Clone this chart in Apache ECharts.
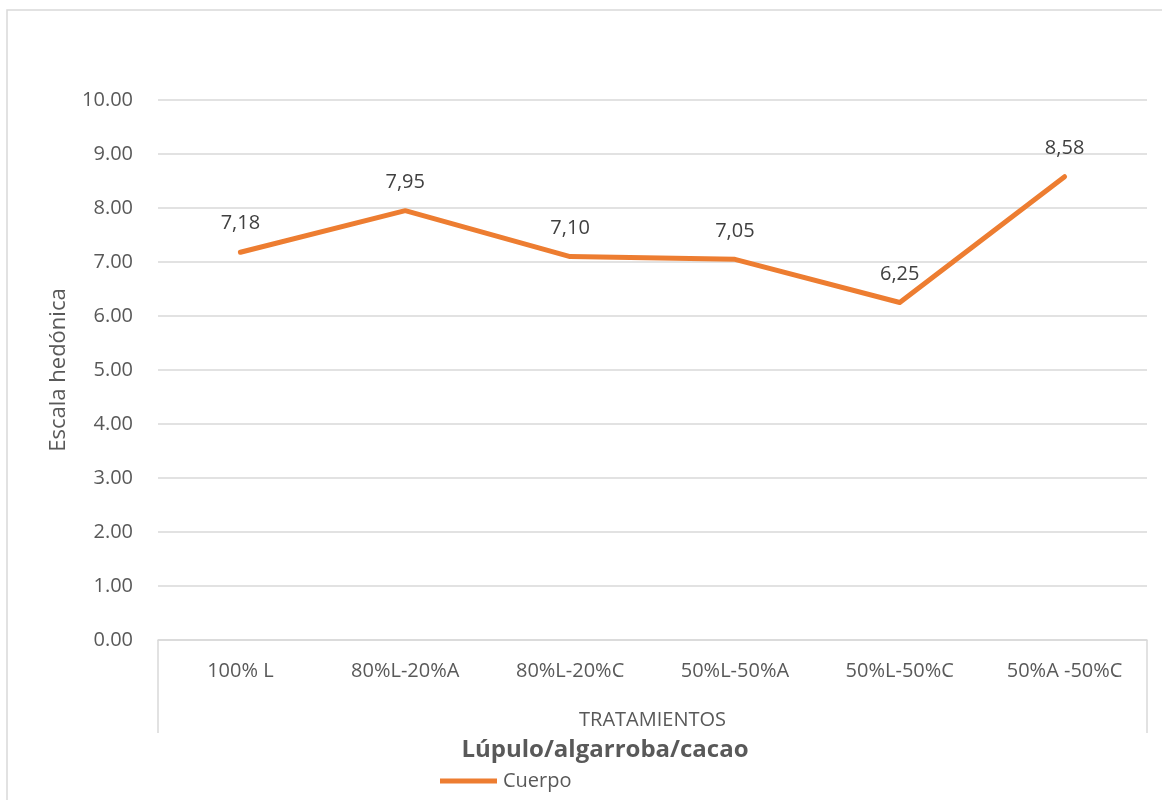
<!DOCTYPE html>
<html>
<head>
<meta charset="utf-8" />
<title>Cuerpo</title>
<script type="text/javascript" src="https://cdn.jsdelivr.net/npm/echarts@6/dist/echarts.min.js"></script>
<style>
	body { margin: 0; background: #fff; }
</style>
</head>
<body>
	<div id="chartmain" style="width: 1162px; height: 800px;"></div>
	<script type="text/javascript">
		// datos
		var categorias = [ '100% L', '80%L-20%A', '80%L-20%C', '50%L-50%A', '50%L-50%C', '50%A -50%C' ];
		var cuerpo = [ 7.18, 7.95, 7.10, 7.05, 6.25, 8.58 ];
		var yMin = 0, yMax = 10, yPaso = 1;

		var fuente = '"Open Sans", "Noto Sans", sans-serif';

		var option = {
			backgroundColor : '#ffffff',
			textStyle : { fontFamily : fuente },
			grid : {
				left : 158,
				right : 15,
				top : 100,
				bottom : 160
			},
			title : {
				text : 'Lúpulo/algarroba/cacao',
				left : 605,
				textAlign : 'center',
				top : 738,
				padding : 0,
				textStyle : {
					fontFamily : fuente,
					fontSize : 24,
					fontWeight : 'bold',
					color : '#595959'
				}
			},
			legend : {
				data : [ 'Cuerpo' ],
				left : 440,
				top : 771,
				padding : 0,
				itemWidth : 57,
				itemHeight : 5,
				itemGap : 6,
				icon : 'rect',
				textStyle : {
					fontFamily : fuente,
					fontSize : 20,
					color : '#595959',
					padding : [ 0, 0, 0, 1 ]
				}
			},
			graphic : [ {
				type : 'rect',
				shape : { x : 7, y : 10, width : 1200, height : 850 },
				style : { fill : null, stroke : '#d9d9d9', lineWidth : 1.5 },
				silent : true
			}, {
				type : 'line',
				shape : { x1 : 158, y1 : 640, x2 : 158, y2 : 733 },
				style : { stroke : '#d9d9d9', lineWidth : 1.5 },
				silent : true
			}, {
				type : 'line',
				shape : { x1 : 1147, y1 : 640, x2 : 1147, y2 : 733 },
				style : { stroke : '#d9d9d9', lineWidth : 1.5 },
				silent : true
			} ],
			xAxis : [ {
				type : 'category',
				boundaryGap : true,
				data : categorias,
				name : 'TRATAMIENTOS',
				nameLocation : 'middle',
				nameGap : 70,
				nameTextStyle : {
					fontFamily : fuente,
					fontSize : 20,
					color : '#595959'
				},
				axisLine : { lineStyle : { color : '#d9d9d9', width : 1.5 } },
				axisTick : { show : false },
				axisLabel : {
					fontFamily : fuente,
					fontSize : 20,
					color : '#595959',
					margin : 21
				}
			} ],
			yAxis : [ {
				type : 'value',
				min : yMin,
				max : yMax,
				interval : yPaso,
				name : 'Escala hedónica',
				nameLocation : 'middle',
				nameGap : 88,
				nameTextStyle : {
					fontFamily : fuente,
					fontSize : 22,
					color : '#595959'
				},
				axisLine : { show : false },
				axisTick : { show : false },
				splitLine : { lineStyle : { color : '#d9d9d9', width : 1.5 } },
				axisLabel : {
					fontFamily : fuente,
					fontSize : 20,
					color : '#595959',
					margin : 25,
					formatter : function(v) { return v.toFixed(2); }
				}
			} ],
			series : [ {
				name : 'Cuerpo',
				type : 'line',
				data : cuerpo,
				symbol : 'circle',
				symbolSize : 1,
				showSymbol : true,
				itemStyle : { color : '#ED7D31' },
				lineStyle : { color : '#ED7D31', width : 5, cap : 'round', join : 'round' },
				label : {
					show : true,
					position : 'top',
					distance : 18,
					fontFamily : fuente,
					fontSize : 20,
					color : '#404040',
					formatter : function(p) { return p.value.toFixed(2).replace('.', ','); }
				},
				emphasis : { disabled : true },
				animation : false
			} ]
		};

		var myChart = echarts.init(document.getElementById('chartmain'));
		myChart.setOption(option);
	</script>
</body>
</html>
